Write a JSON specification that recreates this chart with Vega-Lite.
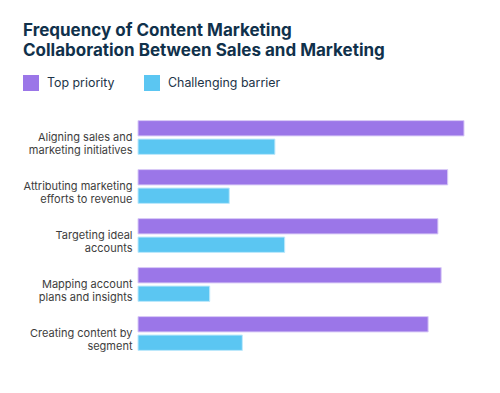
{
  "$schema": "https://vega.github.io/schema/vega-lite/v6.json",
  "width": 326,
  "height": 245,
  "autosize": {"type": "none"},
  "padding": {"left": 138, "top": 113, "right": 36, "bottom": 35},
  "background": "#ffffff",
  "title": {
    "text": ["Frequency of Content Marketing", "Collaboration Between Sales and Marketing"],
    "anchor": "start",
    "frame": "group",
    "dx": -115,
    "offset": 15,
    "font": "Inter",
    "fontSize": 17,
    "fontWeight": 700,
    "lineHeight": 20,
    "color": "#10314b"
  },
  "data": {
    "values": [
      {"task": "Aligning sales and marketing initiatives", "series": "Top priority", "value": 100},
      {"task": "Aligning sales and marketing initiatives", "series": "Challenging barrier", "value": 42},
      {"task": "Attributing marketing efforts to revenue", "series": "Top priority", "value": 95},
      {"task": "Attributing marketing efforts to revenue", "series": "Challenging barrier", "value": 28},
      {"task": "Targeting ideal accounts", "series": "Top priority", "value": 92},
      {"task": "Targeting ideal accounts", "series": "Challenging barrier", "value": 45},
      {"task": "Mapping account plans and insights", "series": "Top priority", "value": 93},
      {"task": "Mapping account plans and insights", "series": "Challenging barrier", "value": 22},
      {"task": "Creating content by segment", "series": "Top priority", "value": 89},
      {"task": "Creating content by segment", "series": "Challenging barrier", "value": 32}
    ]
  },
  "mark": {"type": "bar", "strokeWidth": 1},
  "encoding": {
    "y": {
      "field": "task",
      "type": "nominal",
      "sort": null,
      "scale": {"paddingInner": 0.31, "paddingOuter": 0.155},
      "axis": {
        "title": null,
        "domain": false,
        "ticks": false,
        "labelPadding": 6,
        "labelFont": "Inter",
        "labelFontSize": 11,
        "labelColor": "#3d3d3d",
        "labelLimit": 200,
        "labelLineHeight": 13,
        "labelExpr": "datum.label == 'Aligning sales and marketing initiatives' ? ['Aligning sales and', 'marketing initiatives'] : datum.label == 'Attributing marketing efforts to revenue' ? ['Attributing marketing', 'efforts to revenue'] : datum.label == 'Targeting ideal accounts' ? ['Targeting ideal', 'accounts'] : datum.label == 'Mapping account plans and insights' ? ['Mapping account', 'plans and insights'] : ['Creating content by', 'segment']"
      }
    },
    "yOffset": {
      "field": "series",
      "type": "nominal",
      "sort": ["Top priority", "Challenging barrier"],
      "scale": {"paddingInner": 0.17, "paddingOuter": 0}
    },
    "x": {
      "field": "value",
      "type": "quantitative",
      "scale": {"domain": [0, 100]},
      "axis": null
    },
    "color": {
      "field": "series",
      "type": "nominal",
      "sort": ["Top priority", "Challenging barrier"],
      "scale": {"domain": ["Top priority", "Challenging barrier"], "range": ["#9b76e8", "#5bc6f2"]},
      "legend": {
        "title": null,
        "orient": "none",
        "direction": "horizontal",
        "legendX": -115,
        "legendY": -38,
        "symbolType": "square",
        "symbolSize": 256,
        "symbolStrokeWidth": 0,
        "labelFont": "Inter",
        "labelFontSize": 12.4,
        "labelColor": "#1d3448",
        "labelOffset": 8,
        "columnPadding": 29
      }
    },
    "stroke": {
      "field": "series",
      "type": "nominal",
      "scale": {"domain": ["Top priority", "Challenging barrier"], "range": ["#d9caf7", "#bfe9fb"]},
      "legend": null
    }
  },
  "config": {"view": {"stroke": null}}
}
